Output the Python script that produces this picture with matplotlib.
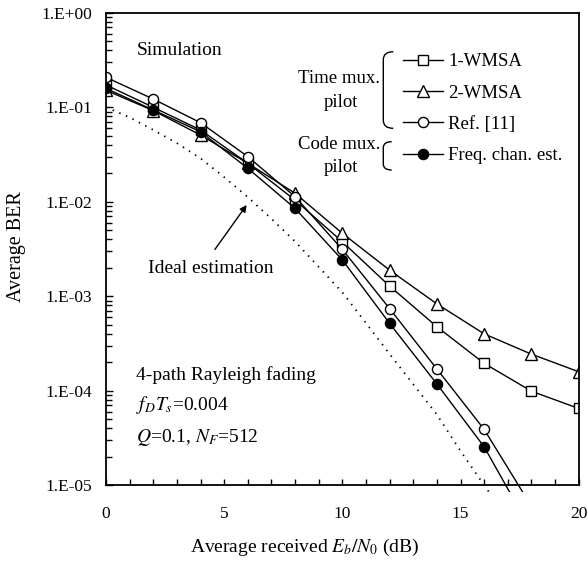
import numpy as np
import matplotlib
matplotlib.use('Agg')
import matplotlib.pyplot as plt
from matplotlib.path import Path
from matplotlib.patches import PathPatch, Rectangle
from matplotlib.ticker import FixedLocator, FuncFormatter, LogLocator, NullFormatter, MultipleLocator

plt.rcParams['font.family'] = ['Liberation Serif', 'DejaVu Serif']
plt.rcParams['mathtext.fontset'] = 'stix'

# ---------------- data ----------------
snr = [0, 2, 4, 6, 8, 10, 12, 14, 16, 18, 20]
ber_1wmsa = [0.172, 0.0998, 0.0574, 0.0255, 0.0104, 3.77e-3, 1.28e-3, 4.76e-4, 1.95e-4, 9.9e-5, 6.5e-5]
ber_2wmsa = [0.151, 0.092, 0.0508, 0.0255, 0.0123, 4.63e-3, 1.89e-3, 8.3e-4, 4.0e-4, 2.44e-4, 1.59e-4]
snr_ref = [0, 2, 4, 6, 8, 10, 12, 14, 16, 18]
ber_ref11 = [0.207, 0.122, 0.0686, 0.030, 0.0113, 3.13e-3, 7.4e-4, 1.70e-4, 3.9e-5, 6.0e-6]
ber_freq = [0.158, 0.0934, 0.055, 0.0226, 8.5e-3, 2.42e-3, 5.16e-4, 1.18e-4, 2.55e-5, 3.3e-6]
snr_ideal = [0, 1, 2, 3, 4, 5, 6, 7, 8, 9, 10, 11, 12, 13, 14, 15, 16, 17]
ber_ideal = [0.100, 0.078, 0.0575, 0.0417, 0.0288, 0.0182, 0.0112, 6.6e-3, 3.8e-3, 2.04e-3,
             1.10e-3, 5.2e-4, 2.45e-4, 1.17e-4, 5.6e-5, 2.31e-5, 1.0e-5, 4.5e-6]

labels = ['1-WMSA', '2-WMSA', 'Ref. [11]', 'Freq. chan. est.']
ytick_vals = [1e-5, 1e-4, 1e-3, 1e-2, 1e-1, 1e0]
ytick_labels = ['1.E-05', '1.E-04', '1.E-03', '1.E-02', '1.E-01', '1.E+00']

W, H = 588, 565
fig = plt.figure(figsize=(W / 100, H / 100), dpi=100)
L, R, T, B = 106, 578.7, 12.7, 485.3
ax = fig.add_axes([L / W, 1 - B / H, (R - L) / W, (B - T) / H])

def P(px, py):
    return ((px - L) / (R - L), (B - py) / (B - T))

clip = Rectangle((0, -0.014), 1, 1.014, transform=ax.transAxes)

lw = 1.0
ms = 7
l_ideal, = ax.plot(snr_ideal, ber_ideal, color='black', lw=1.3, linestyle=(0, (0.8, 3.2)))
l1, = ax.plot(snr, ber_1wmsa, color='black', lw=lw, marker='s', ms=ms, mfc='white', mec='black', mew=1.0)
l2, = ax.plot(snr, ber_2wmsa, color='black', lw=lw, marker='^', ms=ms + 1.5, mfc='white', mec='black', mew=1.0)
l3, = ax.plot(snr_ref, ber_ref11, color='black', lw=lw, marker='o', ms=ms + 0.3, mfc='white', mec='black', mew=1.0)
l4, = ax.plot(snr_ref, ber_freq, color='black', lw=lw, marker='o', ms=ms + 0.3, mfc='black', mec='black', mew=1.0)
for ln in (l_ideal, l1, l2, l3, l4):
    ln.set_clip_path(clip)

ax.set_yscale('log')
ax.set_xlim(0, 20)
ax.set_ylim(1e-5, 1)

ax.yaxis.set_major_locator(FixedLocator(ytick_vals))
ax.yaxis.set_major_formatter(FuncFormatter(lambda v, p: ytick_labels[ytick_vals.index(min(ytick_vals, key=lambda t: abs(np.log10(t) - np.log10(v))))]))
ax.yaxis.set_minor_locator(LogLocator(base=10, subs=np.arange(2, 10)))
ax.yaxis.set_minor_formatter(NullFormatter())
ax.xaxis.set_major_locator(MultipleLocator(5))
ax.xaxis.set_minor_locator(MultipleLocator(1))

ax.tick_params(axis='both', which='both', direction='in', top=False, right=False, width=1.0, labelsize=12.5)
ax.tick_params(axis='x', which='major', length=4, pad=15)
ax.tick_params(axis='x', which='minor', length=4)
ax.tick_params(axis='y', which='major', length=5, pad=10)
ax.tick_params(axis='y', which='minor', length=4)
for s in ax.spines.values():
    s.set_linewidth(1.3)

ax.set_xlabel(r'Average received $E_b/N_0$ (dB)', fontsize=14, va='center')
ax.xaxis.set_label_coords(P(304.5, 0)[0], P(0, 547)[1])
ax.set_ylabel('Average BER', fontsize=14.5, va='center', ha='center')
ax.yaxis.set_label_coords(P(16.7, 0)[0], P(0, 247)[1])

# annotations
ax.text(*P(137, 50), 'Simulation', transform=ax.transAxes, fontsize=14, va='center', ha='left')
ax.text(*P(148.3, 268.3), 'Ideal estimation', transform=ax.transAxes, fontsize=14, va='center', ha='left')
ax.annotate('', xy=P(248.3, 202.7), xycoords='axes fraction', xytext=P(213.3, 251.7), textcoords='axes fraction',
            arrowprops=dict(arrowstyle='-|>', color='black', lw=1.0, mutation_scale=10))
ax.text(*P(136, 375), '4-path Rayleigh fading', transform=ax.transAxes, fontsize=14, va='center', ha='left')
ax.text(*P(136, 405), r'$f_DT_s$=0.004', transform=ax.transAxes, fontsize=14, va='center', ha='left')
ax.text(*P(136, 437), r'$Q$=0.1, $N_F$=512', transform=ax.transAxes, fontsize=14, va='center', ha='left')

# legend
leg = ax.legend([l1, l2, l3, l4], labels, loc='upper left', bbox_to_anchor=P(403, 53), frameon=False,
                fontsize=13.5, handlelength=2.15, handletextpad=0.25, labelspacing=0.76, borderpad=0,
                borderaxespad=0, numpoints=1)

ax.text(*P(339, 78), 'Time mux.', transform=ax.transAxes, fontsize=13.5, va='center', ha='center')
ax.text(*P(341, 102), 'pilot', transform=ax.transAxes, fontsize=13.5, va='center', ha='center')
ax.text(*P(339, 144), 'Code mux.', transform=ax.transAxes, fontsize=13.5, va='center', ha='center')
ax.text(*P(341, 167), 'pilot', transform=ax.transAxes, fontsize=13.5, va='center', ha='center')

def brace(x0, x1, y0, y1, r):
    verts = [P(x1, y0), P(x0, y0), P(x0, y0 + r), P(x0, y1 - r), P(x0, y1), P(x1, y1)]
    codes = [Path.MOVETO, Path.CURVE3, Path.CURVE3, Path.LINETO, Path.CURVE3, Path.CURVE3]
    ax.add_patch(PathPatch(Path(verts, codes), transform=ax.transAxes, fill=False, lw=1.0,
                           edgecolor='black', clip_on=False))

brace(383.3, 393.3, 51.7, 128.3, 8)
brace(383.3, 391.7, 141.7, 170, 6)

fig.savefig('out.png', dpi=100)
